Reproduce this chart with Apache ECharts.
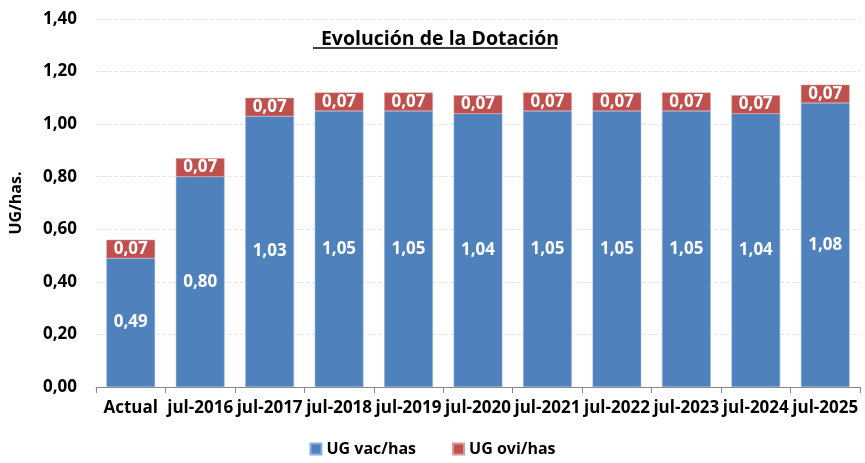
<!DOCTYPE html>
<html><head><meta charset="utf-8">
<script src="https://cdn.jsdelivr.net/npm/echarts@6/dist/echarts.min.js"></script>
<style>html,body{margin:0;padding:0;background:#fff}#c{width:865px;height:463px}</style>
</head><body><div id="c"></div>
<script>
const categories = ['Actual','jul-2016','jul-2017','jul-2018','jul-2019','jul-2020','jul-2021','jul-2022','jul-2023','jul-2024','jul-2025'];
const vacValues = [0.49,0.80,1.03,1.05,1.05,1.04,1.05,1.05,1.05,1.04,1.08];
const oviValues = [0.07,0.07,0.07,0.07,0.07,0.07,0.07,0.07,0.07,0.07,0.07];
const yTicks = [0,0.2,0.4,0.6,0.8,1.0,1.2,1.4];
const FONT = '"Open Sans", "Noto Sans", sans-serif';
const fmt = v => Number(v).toFixed(2).replace('.', ',');
const chart = echarts.init(document.getElementById('c'));
const lbl = {show:true, position:'inside', color:'#fff', fontWeight:'bold', fontSize:17, fontFamily:FONT, formatter:p=>fmt(p.value)};
chart.setOption({
  animation:false,
  title:{text:'Evolución de la Dotación', left:435, textAlign:'center', top:24,
    textStyle:{fontFamily:FONT, fontWeight:'bold', fontSize:19.5, color:'#000'}},
  graphic:[{type:'line', shape:{x1:313,y1:48,x2:557,y2:48}, style:{stroke:'#000', lineWidth:1.5}}],
  grid:{left:94, right:5, top:19, bottom:76},
  legend:{bottom:1, left:'center', itemWidth:11, itemHeight:11, itemGap:36, icon:'rect',
    textStyle:{fontFamily:FONT, fontWeight:'bold', fontSize:16, color:'#000'}, data:['UG vac/has','UG ovi/has']},
  xAxis:{type:'category', data:categories,
    axisLine:{lineStyle:{color:'#888'}}, axisTick:{show:true, length:6, lineStyle:{color:'#888'}},
    axisLabel:{fontFamily:FONT, fontWeight:'bold', fontSize:17, color:'#000', margin:13, interval:0}},
  yAxis:{type:'value', min:0, max:1.4, interval:0.2, name:'UG/has.', nameLocation:'middle', nameGap:72, nameRotate:90,
    nameTextStyle:{fontFamily:FONT, fontWeight:'bold', fontSize:16, color:'#000'},
    axisLabel:{fontFamily:FONT, fontWeight:'bold', fontSize:17, color:'#000', margin:19, formatter:v=>fmt(v)},
    axisLine:{show:false}, axisTick:{show:false},
    splitLine:{lineStyle:{color:'#e6e6e6', type:'dashed'}}},
  series:[
    {name:'UG vac/has', type:'bar', stack:'a', data:vacValues, barWidth:'70%', itemStyle:{color:'#4F81BD', borderColor:'#8fb0d8', borderWidth:0.5}, label:lbl},
    {name:'UG ovi/has', type:'bar', stack:'a', data:oviValues, barWidth:'70%', itemStyle:{color:'#C0504D', borderColor:'#d99a98', borderWidth:0.5}, label:lbl}
  ]
});
</script></body></html>
